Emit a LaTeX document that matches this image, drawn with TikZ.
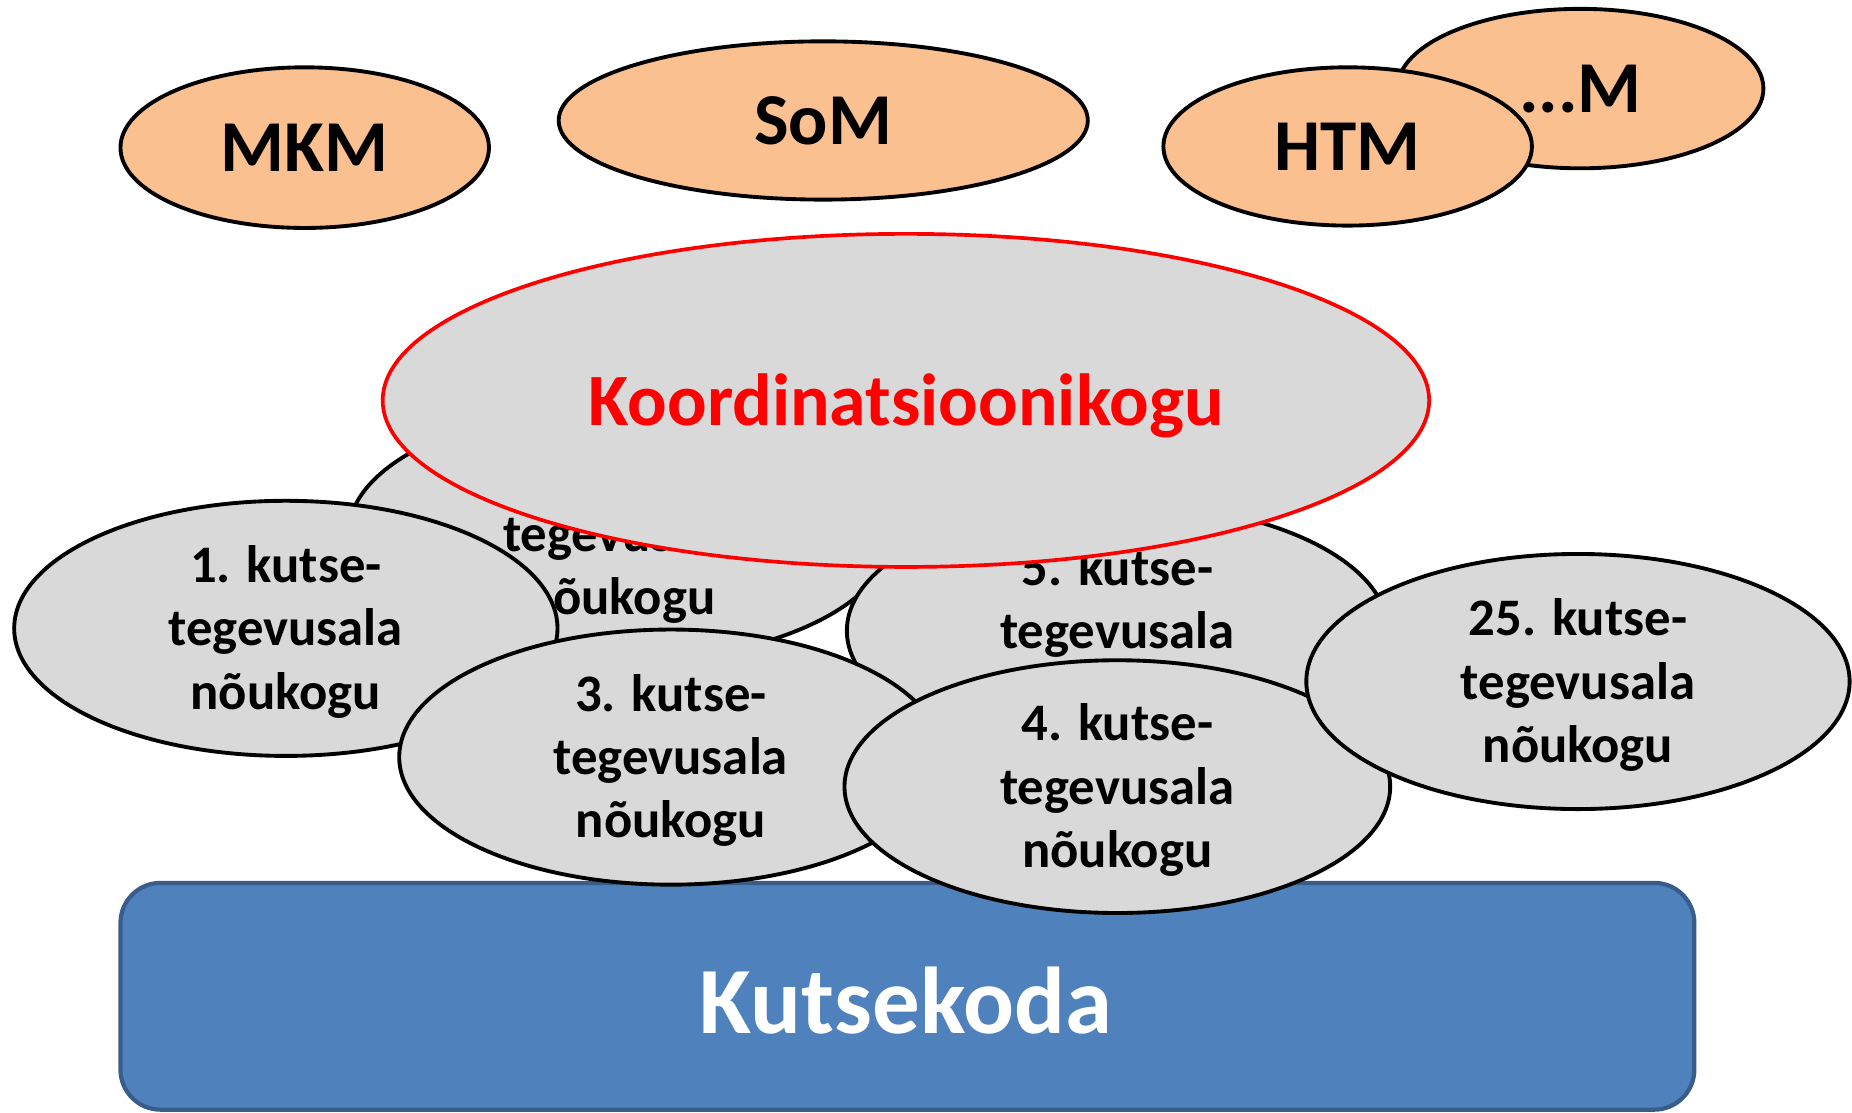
\documentclass[tikz,border=0pt]{standalone}
\usepackage{fontspec}
\setmainfont{Carlito}
\definecolor{peach}{HTML}{FAC090}
\definecolor{councilgray}{HTML}{D9D9D9}
\definecolor{chamberblue}{HTML}{4F81BD}
\definecolor{chamberedge}{HTML}{385D8A}
\tikzset{
	ministry/.style={draw=black, fill=peach, line width=1.1pt},
	ministrytext/.style={font=\fontsize{20.8}{24}\selectfont\bfseries},
	council/.style={draw=black, fill=councilgray, line width=1.1pt},
	counciltext/.style={align=center, yshift=-1pt, font=\fontsize{15}{18}\selectfont\bfseries},
	coordtext/.style={text=red, yshift=-1.5pt, font=\fontsize{21}{25}\selectfont\bfseries},
	chamber/.style={draw=chamberedge, fill=chamberblue, line width=1.2pt, rounded corners=11.4pt},
	chambertext/.style={text=white, font=\fontsize{27}{31}\selectfont\bfseries}
}

\begin{document}
\begin{tikzpicture}[x=0.011811cm, y=-0.011811cm]
			\useasboundingbox (0,0) rectangle (1568,941.5);
			\clip (0,0) rectangle (1568,941.5);
			%%%%% START %%%%%
			
			% ministeeriumid
			\draw[ministry] (258,125) ellipse (156 and 68) node[ministrytext] (mkm) {MKM};
			\draw[ministry] (697,102) ellipse (224 and 67) node[ministrytext] (som) {SoM};
			\draw[ministry] (1338,75) ellipse (155 and 67.5) node[ministrytext] (muud) {...M};
			\draw[ministry] (1141,124) ellipse (156 and 67) node[ministrytext] (htm) {HTM};
			
			% Kutsekoda
			\draw[chamber] (102,747.5) rectangle (1434.5,939.5);
			\node[chambertext] (kutsekoda) at (767,847) {Kutsekoda};
			
			% kutsenõukogud
			\draw[council] (525,452) ellipse (230 and 108) node[counciltext] (kogu2) {2. kutse-\\tegevusala\\nõukogu};
			\draw[council] (242,532) ellipse (230 and 108) node[counciltext] (kogu1) {1. kutse-\\tegevusala\\nõukogu};
			\draw[council] (946,534) ellipse (229 and 108) node[counciltext] (kogu5) {5. kutse-\\tegevusala\\nõukogu};
			\draw[council] (568,641) ellipse (230 and 108) node[counciltext] (kogu3) {3. kutse-\\tegevusala\\nõukogu};
			\draw[council] (946,666) ellipse (231 and 107) node[counciltext] (kogu4) {4. kutse-\\tegevusala\\nõukogu};
			\draw[council] (1336,577) ellipse (230 and 108) node[counciltext] (kogu25) {25. kutse-\\tegevusala\\nõukogu};
			
			% Koordinatsioonikogu
			\draw[council, draw=red, line width=1.05pt] (767,339) ellipse (443 and 141) node[coordtext] (koord) {Koordinatsioonikogu};
			
			%%%%% END %%%%%
\end{tikzpicture}
\end{document}
